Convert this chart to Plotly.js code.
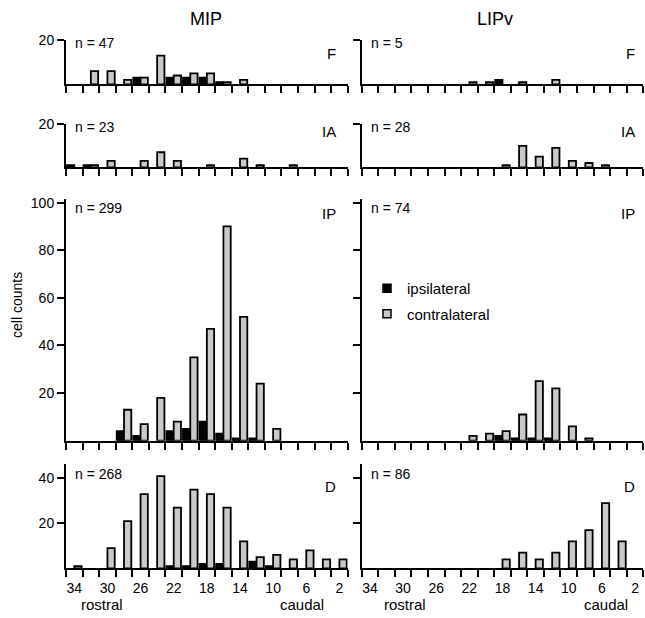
<!DOCTYPE html>
<html>
<head>
<meta charset="utf-8">
<script src="https://cdn.plot.ly/plotly-3.0.1.min.js"></script>
<style>html,body{margin:0;padding:0;background:#fff}#chart{width:645px;height:618px}</style>
</head>
<body>
<div id="chart"></div>
<script>
// ---- data (cell counts per rostro-caudal bin) ----
const bins = [34,32,30,28,26,24,22,20,18,16,14,12,10,8,6,4,2];
const tickLabels = [34,30,26,22,18,14,10,6,2];
const areas = ['MIP','LIPv'];
const panels = ['F','IA','IP','D'];
const nMIP  = [47,23,299,268];
const nLIPv = [5,28,74,86];

const mipF_ipsi    = [0,0,0,0,3,0,3,3,3,1,0,0,0,0,0,0,0];
const mipF_contra  = [0,6,6,2,3,13,4,5,5,1,2,0,0,0,0,0,0];
const mipIA_ipsi   = [1,1,0,0,0,0,0,0,0,0,0,0,0,0,0,0,0];
const mipIA_contra = [0,1,3,0,3,7,3,0,1,0,4,1,0,1,0,0,0];
const mipIP_ipsi   = [0,0,0,4,2,0,4,5,8,3,1,1,0,0,0,0,0];
const mipIP_contra = [0,0,0,13,7,18,8,35,47,90,52,24,5,0,0,0,0];
const mipD_ipsi    = [0,0,0,0,0,0,1,1,2,2,0,3,1,0,0,0,0];
const mipD_contra  = [1,0,9,21,33,41,27,35,33,27,12,5,6,4,8,4,4];

const lipF_ipsi    = [0,0,0,0,0,0,0,0,2,0,0,0,0,0,0,0,0];
const lipF_contra  = [0,0,0,0,0,0,1,1,0,1,0,2,0,0,0,0,0];
const lipIA_ipsi   = [0,0,0,0,0,0,0,0,0,0,0,0,0,0,0,0,0];
const lipIA_contra = [0,0,0,0,0,0,0,0,1,10,5,9,3,2,1,0,0];
const lipIP_ipsi   = [0,0,0,0,0,0,0,0,2,1,1,1,0,0,0,0,0];
const lipIP_contra = [0,0,0,0,0,0,2,3,4,11,25,22,6,1,0,0,0];
const lipD_ipsi    = [0,0,0,0,0,0,0,0,0,0,0,0,0,0,0,0,0];
const lipD_contra  = [0,0,0,0,0,0,0,0,4,7,4,7,12,17,29,12,0];

// ---- layout geometry ----
const W = 645, H = 618;
const FONT = 'Liberation Sans, Arial, Helvetica, sans-serif';
const GRAY = '#c9c9c9';
const colX = [[66, 347.7], [361.7, 643.3]];
const rowBase = [84.3, 167.3, 440.7, 568.3];
const rowTop  = [39.6, 123.7, 199.1, 463.7];
const yMax    = [20.3, 20.3, 101.5, 46.5];
const yTicks  = [[20],[20],[20,40,60,80,100],[20,40]];
const nY      = [43, 127, 208, 474];
const letterY = [53, 131, 213, 486];

const series = [
  [[mipF_ipsi, mipF_contra], [lipF_ipsi, lipF_contra]],
  [[mipIA_ipsi, mipIA_contra], [lipIA_ipsi, lipIA_contra]],
  [[mipIP_ipsi, mipIP_contra], [lipIP_ipsi, lipIP_contra]],
  [[mipD_ipsi, mipD_contra], [lipD_ipsi, lipD_contra]]
];

const nz = a => a.map(v => v === 0 ? null : v);
const bw = 0.88;
const traces = [];
const layout = {
  width: W, height: H,
  margin: {l:0, r:0, t:0, b:0},
  paper_bgcolor: '#fff', plot_bgcolor: 'rgba(0,0,0,0)',
  font: {family: FONT, size: 14, color: '#000'},
  barmode: 'overlay',
  showlegend: true,
  legend: {x: 367/W, y: 1 - 272/H, xanchor: 'left', yanchor: 'top',
           bgcolor: 'rgba(0,0,0,0)', font: {family: FONT, size: 15},
           tracegroupgap: 3, itemwidth: 30},
  annotations: [], shapes: []
};

const minorTicks = bins.map(b => b + 1).concat([1]);
for (let r = 0; r < 4; r++) {
  for (let c = 0; c < 2; c++) {
    const idx = r * 2 + c + 1;
    const xa = 'x' + idx, ya = 'y' + idx;
    const xKey = 'xaxis' + (idx === 1 ? '' : idx);
    const yKey = 'yaxis' + (idx === 1 ? '' : idx);
    const [ipsi, contra] = series[r][c];
    traces.push({type:'bar', x: bins, y: nz(ipsi), xaxis: xa, yaxis: ya,
      width: bw, offset: 0, showlegend: false, hoverinfo: 'skip',
      marker: {color: '#000', line: {color: '#000', width: 1.8}}});
    traces.push({type:'bar', x: bins, y: nz(contra), xaxis: xa, yaxis: ya,
      width: bw, offset: -bw, showlegend: false, hoverinfo: 'skip',
      marker: {color: GRAY, line: {color: '#000', width: 1.8}}});
    const bottom = r === 3;
    layout[xKey] = {
      domain: [colX[c][0]/W, colX[c][1]/W], anchor: ya,
      range: [35, 1], fixedrange: true, showgrid: false, zeroline: false,
      showline: true, linecolor: '#000', linewidth: 2,
      tickmode: 'array', tickvals: tickLabels, ticktext: tickLabels.map(String),
      ticks: 'outside', ticklen: 6, tickcolor: 'rgba(0,0,0,0)',
      showticklabels: bottom, tickfont: {family: FONT, size: 14},
      minor: {tickmode: 'array', tickvals: minorTicks, ticks: 'outside',
              ticklen: 7, tickwidth: 2, tickcolor: '#000', showgrid: false}
    };
    layout[yKey] = {
      domain: [1 - rowBase[r]/H, 1 - rowTop[r]/H], anchor: xa,
      range: [0, yMax[r]], fixedrange: true, showgrid: false, zeroline: false,
      showline: true, linecolor: '#000', linewidth: 2,
      tickmode: 'array', tickvals: yTicks[r], ticks: 'outside', ticklen: 7,
      tickwidth: 2, tickcolor: '#000',
      showticklabels: c === 0, tickfont: {family: FONT, size: 14}
    };
    // n labels and panel letters
    layout.annotations.push({xref:'paper', yref:'paper', x: (colX[c][0] + 7)/W, y: 1 - nY[r]/H,
      xanchor:'left', yanchor:'middle', showarrow:false,
      text: 'n = ' + (c === 0 ? nMIP[r] : nLIPv[r]), font:{family:FONT, size:14}});
    layout.annotations.push({xref:'paper', yref:'paper', x: (c === 0 ? 338 : 637)/W, y: 1 - letterY[r]/H,
      xanchor:'right', yanchor:'middle', showarrow:false,
      text: panels[r], font:{family:FONT, size:15}});
  }
}
// legend entries (placed in the LIPv / IP panel)
traces.push({type:'scatter', mode:'markers', x:[null], y:[null], xaxis:'x6', yaxis:'y6',
  name:'ipsilateral', legendgroup:'a', hoverinfo:'skip',
  marker:{symbol:'square', size:8, color:'#000', line:{color:'#000', width:1.5}}});
traces.push({type:'scatter', mode:'markers', x:[null], y:[null], xaxis:'x6', yaxis:'y6',
  name:'contralateral', legendgroup:'b', hoverinfo:'skip',
  marker:{symbol:'square', size:8, color:GRAY, line:{color:'#000', width:1.5}}});

// column titles
[[206, 0], [495, 1]].forEach(([x, i]) => layout.annotations.push({xref:'paper', yref:'paper',
  x: x/W, y: 1 - 19/H, xanchor:'center', yanchor:'middle', showarrow:false,
  text: areas[i], font:{family:FONT, size:18}}));
// y title
layout.annotations.push({xref:'paper', yref:'paper', x: 17/W, y: 1 - 305/H,
  xanchor:'center', yanchor:'middle', showarrow:false, textangle:-90,
  text:'cell counts', font:{family:FONT, size:14}});
// rostral / caudal
[[102, 'rostral'], [302, 'caudal'], [405, 'rostral'], [606, 'caudal']].forEach(([x, t]) =>
  layout.annotations.push({xref:'paper', yref:'paper', x: x/W, y: 1 - 604/H,
    xanchor:'center', yanchor:'middle', showarrow:false, text: t, font:{family:FONT, size:15}}));

Plotly.newPlot('chart', traces, layout, {staticPlot: true, displayModeBar: false});
</script>
</body>
</html>
